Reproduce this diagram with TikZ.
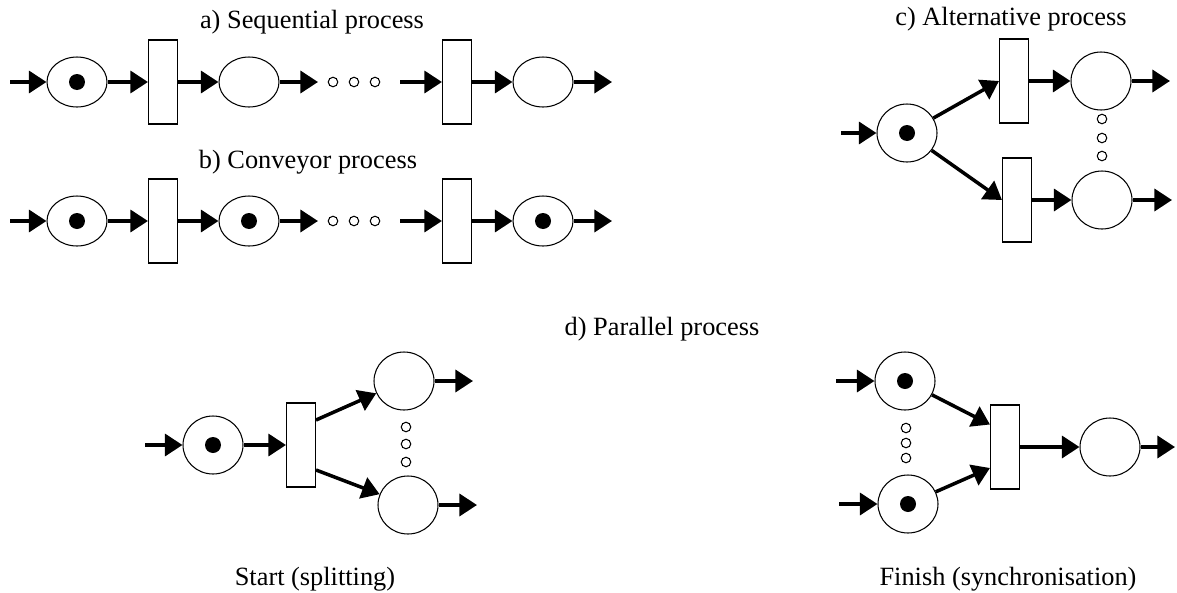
\documentclass[tikz,border=0pt]{standalone}
\usepackage{fontspec}
\setmainfont{Liberation Serif}
\usetikzlibrary{
    shapes.geometric,
    arrows.meta,
}
\tikzset{
    place/.style={draw, ellipse, line width=0.6pt, minimum width=1.2cm, minimum height=1.16cm, inner sep=0pt},
    flat/.style={minimum height=1cm},
    marked/.style={path picture={\fill (path picture bounding box.center) circle (0.16cm);}},
    trans/.style={draw, rectangle, line width=0.6pt, minimum width=0.58cm, minimum height=1.68cm, inner sep=0pt},
    gap/.style={draw, circle, line width=0.6pt, minimum size=0.19cm, inner sep=0pt},
    flow/.style={line width=2pt, -{Triangle[length=10pt, width=12.5pt]}},
    caption/.style={font=\fontsize{15}{18}\selectfont, anchor=base},
}

\begin{document}
\begin{tikzpicture}[x=0.02cm, y=-0.02cm]
        \useasboundingbox (0,0) rectangle (1177,592);
        % a) sequential
        \node[caption] (capa) at (312,28) {a) Sequential process};
        \coordinate (ina) at (10,82);
        \node[place, flat, marked] (pa1) at (77,82) {};
        \node[trans] (ta1) at (163,82) {};
        \node[place, flat] (pa2) at (249,82) {};
        \coordinate (ea) at (318,82);
        \foreach \x [count=\i] in {333,354,375} \node[gap] (ga\i) at (\x,82) {};
        \coordinate (sa) at (400,82);
        \node[trans] (ta2) at (457,82) {};
        \node[place, flat] (pa3) at (543,82) {};
        \coordinate (outa) at (612,82);
        \draw[flow] (ina) -- (pa1);
        \draw[flow] (pa1) -- (ta1);
        \draw[flow] (ta1) -- (pa2);
        \draw[flow] (pa2) -- (ea);
        \draw[flow] (sa) -- (ta2);
        \draw[flow] (ta2) -- (pa3);
        \draw[flow] (pa3) -- (outa);
        % b) conveyor
        \node[caption] (capb) at (308,168) {b) Conveyor process};
        \coordinate (inb) at (10,221);
        \node[place, flat, marked] (pb1) at (77,221) {};
        \node[trans] (tb1) at (163,221) {};
        \node[place, flat, marked] (pb2) at (249,221) {};
        \coordinate (eb) at (318,221);
        \foreach \x [count=\i] in {333,354,375} \node[gap] (gb\i) at (\x,221) {};
        \coordinate (sb) at (400,221);
        \node[trans] (tb2) at (457,221) {};
        \node[place, flat, marked] (pb3) at (543,221) {};
        \coordinate (outb) at (612,221);
        \draw[flow] (inb) -- (pb1);
        \draw[flow] (pb1) -- (tb1);
        \draw[flow] (tb1) -- (pb2);
        \draw[flow] (pb2) -- (eb);
        \draw[flow] (sb) -- (tb2);
        \draw[flow] (tb2) -- (pb3);
        \draw[flow] (pb3) -- (outb);
        % c) alternative
        \node[caption] (capc) at (1011,25) {c) Alternative process};
        \coordinate (inc) at (841,133);
        \node[place, marked] (pc) at (907,133) {};
        \node[trans] (tcu) at (1014,81) {};
        \node[trans] (tcl) at (1017,200) {};
        \node[place] (pcu) at (1101,81) {};
        \node[place] (pcl) at (1102,200) {};
        \coordinate (outcu) at (1170,81);
        \coordinate (outcl) at (1172,200);
        \foreach \y [count=\i] in {119,138,156} \node[gap] (gc\i) at (1102,\y) {};
        \draw[flow] (inc) -- (pc);
        \draw[flow] (pc) -- (tcu.west);
        \draw[flow] (pc) -- (tcl.west);
        \draw[flow] (tcu) -- (pcu);
        \draw[flow] (tcl) -- (pcl);
        \draw[flow] (pcu) -- (outcu);
        \draw[flow] (pcl) -- (outcl);
        % d) parallel
        \node[caption] (capd) at (662,335) {d) Parallel process};
        % start (splitting)
        \coordinate (ins) at (145,445);
        \node[place, marked] (ps) at (213,445) {};
        \node[trans] (ts) at (301,445) {};
        \node[place] (psu) at (404,381) {};
        \node[place] (psl) at (408,505) {};
        \coordinate (outsu) at (473,381);
        \coordinate (outsl) at (477,505);
        \foreach \y [count=\i] in {427,444,462} \node[gap] (gs\i) at (406,\y) {};
        \draw[flow] (ins) -- (ps);
        \draw[flow] (ps) -- (ts);
        \draw[flow] ([yshift=0.5cm]ts.east) -- (psu);
        \draw[flow] ([yshift=-0.5cm]ts.east) -- (psl);
        \draw[flow] (psu) -- (outsu);
        \draw[flow] (psl) -- (outsl);
        \node[caption] (caps) at (315,585) {Start (splitting)};
        % finish (synchronisation)
        \coordinate (inju) at (836,381);
        \coordinate (injl) at (839,504);
        \node[place, marked] (pju) at (905,381) {};
        \node[place, marked] (pjl) at (908,504) {};
        \node[trans] (tj) at (1005,447) {};
        \node[place] (pj) at (1110,447) {};
        \coordinate (outj) at (1175,447);
        \foreach \y [count=\i] in {428,443,458} \node[gap] (gj\i) at (906,\y) {};
        \draw[flow] (inju) -- (pju);
        \draw[flow] (injl) -- (pjl);
        \draw[flow] (pju) -- ([yshift=0.45cm]tj.west);
        \draw[flow] (pjl) -- ([yshift=-0.42cm]tj.west);
        \draw[flow] (tj) -- (pj);
        \draw[flow] (pj) -- (outj);
        \node[caption] (capj) at (1008,585) {Finish (synchronisation)};
    \end{tikzpicture}
\end{document}
